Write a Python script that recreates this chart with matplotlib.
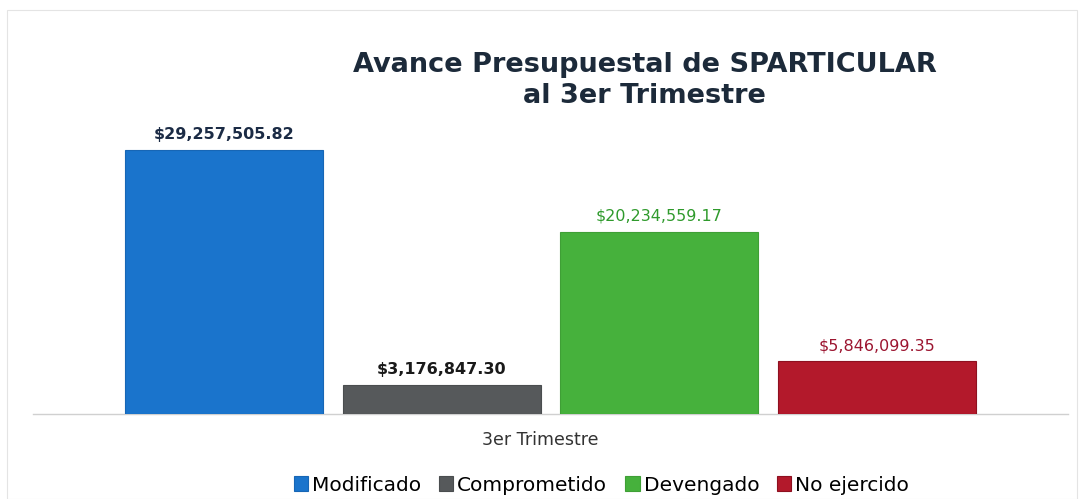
"""
Avance Presupuestal de SPARTICULAR al 3er Trimestre
Gráfica de barras agrupadas (una sola categoría, cuatro momentos del gasto).
"""

import matplotlib
matplotlib.use("Agg")
import matplotlib.pyplot as plt
from matplotlib.patches import Rectangle

# Datos
categorias = ["3er Trimestre"]
series = ["Modificado", "Comprometido", "Devengado", "No ejercido"]
montos = [29257505.82, 3176847.30, 20234559.17, 5846099.35]
etiquetas = ["$29,257,505.82", "$3,176,847.30", "$20,234,559.17", "$5,846,099.35"]

# Estilos
colores = ["#1a74cc", "#56595b", "#46b13c", "#b3192b"]
bordes = ["#1766b5", "#4a4d4f", "#3f9f36", "#8e1020"]
color_etiquetas = ["#1b2b45", "#1a1a1a", "#2f9a2c", "#9c1530"]
peso_etiquetas = ["bold", "bold", "normal", "normal"]

plt.rcParams['font.family'] = ['DejaVu Sans']

fig = plt.figure(figsize=(10.82, 4.99), dpi=100)
ax = fig.add_axes([33 / 1082, 1 - 414 / 499, 1035 / 1082, (414 - 120) / 499])

ancho = 0.182
paso = 0.2
offsets = [-1.5 * paso, -0.5 * paso, 0.5 * paso, 1.5 * paso]

for i, serie in enumerate(series):
    x = 0 + offsets[i]
    ax.bar(x, montos[i], width=ancho, color=colores[i], edgecolor=bordes[i],
           linewidth=0.8, label=serie, zorder=3)
    ax.text(x, montos[i] + 900000, etiquetas[i], ha='center', va='bottom',
            fontsize=11.5, fontweight=peso_etiquetas[i], color=color_etiquetas[i])

ax.set_xlim(-0.476, 0.476)
ax.set_ylim(0, 32.6e6)
ax.set_xticks([-0.009])
ax.set_xticklabels(categorias, fontsize=12.5, color="#333333")
ax.tick_params(axis='x', length=0, pad=12)
ax.set_yticks([])
for lado in ["top", "right", "left"]:
    ax.spines[lado].set_visible(False)
ax.spines["bottom"].set_color("#d0d0d0")
ax.spines["bottom"].set_linewidth(1.0)

# Título
fig.text(0.596, 0.838, "Avance Presupuestal de SPARTICULAR\nal 3er Trimestre",
         ha='center', va='center', fontsize=19.5, fontweight='bold',
         color="#1c2a3a", linespacing=1.25)

# Leyenda
fig.legend(loc='center', bbox_to_anchor=(0.556, 0.028), ncol=4, frameon=False,
           fontsize=14.5, handlelength=0.7, handleheight=0.7,
           handletextpad=0.2, columnspacing=0.9)

# Marco tenue alrededor de la figura
fig.patches.append(Rectangle((7 / 1082, 0.0), 1070 / 1082, 1 - 10 / 499,
                             transform=fig.transFigure, fill=False,
                             edgecolor="#e4e4e4", linewidth=0.8))

fig.savefig("out.png", dpi=100)
